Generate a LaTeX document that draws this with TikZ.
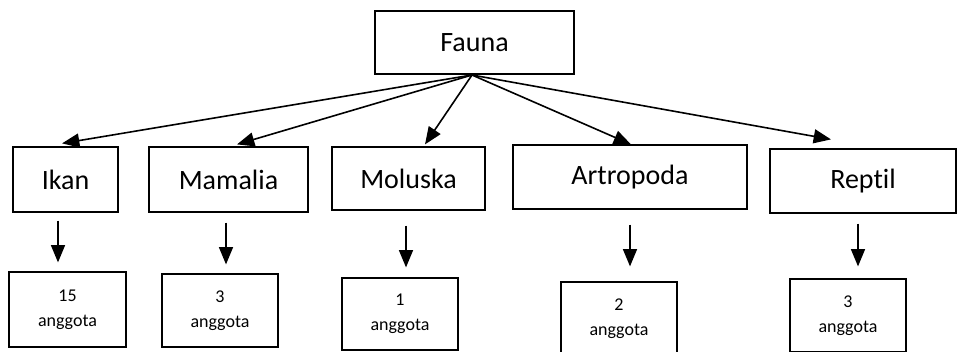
\documentclass[tikz,border=0pt]{standalone}
\usepackage{fontspec}
\setmainfont{Carlito}[Ligatures=NoCommon]
\usetikzlibrary{calc,arrows.meta}
\tikzset{
    block/.style 2 args = {draw, rectangle, line width=0.9pt, inner sep=0pt,
        minimum width=#1*0.75pt,
        minimum height=#2*0.75pt,
        font=\fontsize{21}{25}\selectfont},
    count/.style 2 args = {draw, rectangle, line width=0.9pt, inner sep=0pt,
        minimum width=#1*0.75pt,
        minimum height=#2*0.75pt, align=center,
        font=\fontsize{13.5}{18.5}\selectfont},
    arrow/.style = {draw, line width=1.2pt, -{Triangle[length=13pt,width=10.5pt]}}
}

\begin{document}
\begin{tikzpicture}[x=0.75pt, y=-0.75pt]
                \clip (0,0) rectangle (957,351);
                \node[block={199}{63}] (fauna) at (474.5,42.5) {Fauna};
                \coordinate (fork) at (472,75);
                \node[block={105}{65}] (ikan) at (65.5,179.5) {Ikan};
                \node[block={159}{65}] (mamalia) at (228.5,179.5) {Mamalia};
                \node[block={153}{63}] (moluska) at (408.5,178.5) {Moluska};
                \node[block={234}{64}] (artropoda) at (630,177) {Artropoda};
                \node[block={186}{64}] (reptil) at (863,181) {Reptil};
                \node[count={117}{75}] (ikanN) at (67.5,309.5) {15\\anggota};
                \node[count={116}{73}] (mamaliaN) at (220,310.5) {3\\anggota};
                \node[count={116}{72}] (moluskaN) at (400,314) {1\\anggota};
                \node[count={116}{73}] (artropodaN) at (619,318.5) {2\\anggota};
                \node[count={116}{73}] (reptilN) at (848,315.5) {3\\anggota};
                % dari Fauna ke tiap kelompok
                \draw[arrow] (fork) -- ($(ikan.north)+(-3.5,-3)$);
                \draw[arrow] (fork) -- ($(mamalia.north)+(8.5,-2)$);
                \draw[arrow] (fork) -- ($(moluska.north)+(16.5,-2)$);
                \draw[arrow] (fork) -- ($(artropoda.north)+(1,0)$);
                \draw[arrow] (fork) -- ($(reptil.north)+(-32,-9)$);
                % jumlah anggota
                \draw[arrow] ($(ikan.south)+(-7.5,8)$) -- ($(ikanN.north)+(-9.5,-9)$);
                \draw[arrow] ($(mamalia.south)+(-2.5,10)$) -- ($(mamaliaN.north)+(6,-9)$);
                \draw[arrow] ($(moluska.south)+(-2.5,15)$) -- ($(moluskaN.north)+(6,-10)$);
                \draw[arrow] ($(artropoda.south)+(0,15)$) -- ($(artropodaN.north)+(11,-15)$);
                \draw[arrow] ($(reptil.south)+(-5,10)$) -- ($(reptilN.north)+(10,-12)$);
            \end{tikzpicture}
\end{document}
